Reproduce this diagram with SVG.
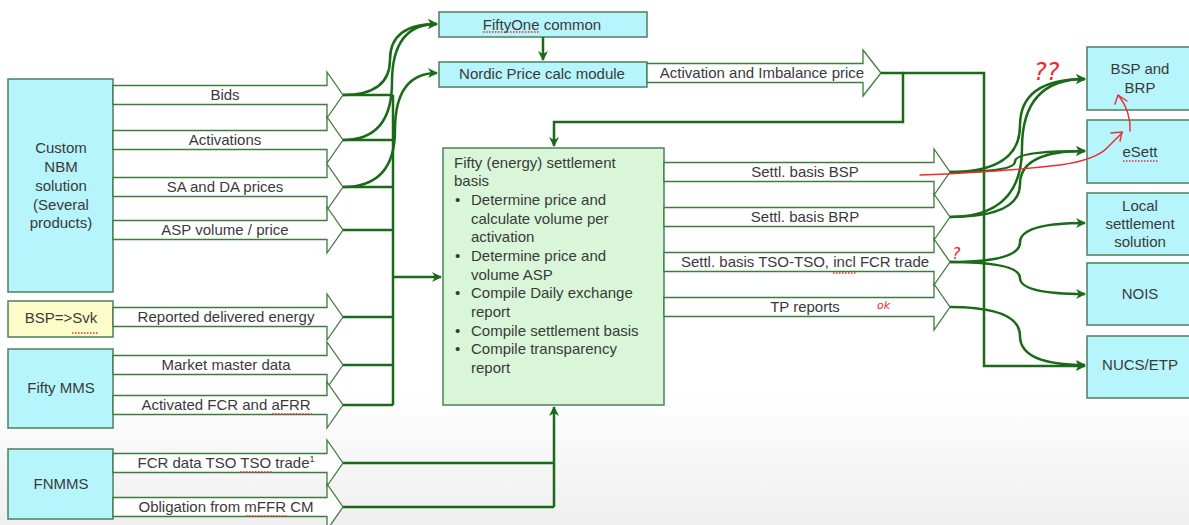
<svg xmlns="http://www.w3.org/2000/svg" width="1189" height="525" viewBox="0 0 1189 525">
<defs>
<linearGradient id="bg" x1="0" y1="0" x2="0" y2="1">
<stop offset="0" stop-color="#ffffff"/>
<stop offset="0.74" stop-color="#ffffff"/>
<stop offset="1" stop-color="#efefef"/>
</linearGradient>
<marker id="ah" viewBox="0 0 10 10" refX="9" refY="5" markerWidth="11" markerHeight="10" orient="auto" markerUnits="userSpaceOnUse">
<path d="M0,0 L10,5 L0,10 L3,5 Z" fill="#1a6a1a"/>
</marker>
<style>
.box{fill:#b6f5fb;stroke:#4d7f5d;stroke-width:1.5}
.ybox{fill:#fdfdc9;stroke:#4d7f5d;stroke-width:1.5}
.gbox{fill:#d9f6d9;stroke:#4d7f5d;stroke-width:1.5}
.flow{fill:#ffffff;stroke:#3e7b3e;stroke-width:1.3;stroke-linejoin:miter}
.t{font-family:"Liberation Sans",Arial,sans-serif;font-size:15px;fill:#3a3a3a}
.c{text-anchor:middle}
.con{fill:none;stroke:#1a6a1a;stroke-width:2.5}
.red{fill:none;stroke:#ee2a2a;stroke-width:1.4;stroke-linecap:round}
.sq{fill:none;stroke:#e03030;stroke-width:1.3;stroke-dasharray:1.5 1.5}
.rt{font-family:"DejaVu Sans",sans-serif;fill:#ee2a2a;font-style:italic}
</style>
</defs>
<rect x="0" y="0" width="1189" height="525" fill="url(#bg)"/>

<!-- left source nodes -->
<g id="custom-nbm">
<rect class="box" x="8" y="79" width="105" height="213"/>
<text class="t c" x="61" y="153">Custom</text>
<text class="t c" x="61" y="172">NBM</text>
<text class="t c" x="61" y="191">solution</text>
<text class="t c" x="61" y="210">(Several</text>
<text class="t c" x="61" y="228">products)</text>
</g>
<g id="bsp-svk">
<rect class="ybox" x="8" y="301" width="105" height="36"/>
<text class="t c" x="61" y="323">BSP=&gt;Svk</text>
<path class="sq" d="M72 333 L98 333"/>
</g>
<g id="fifty-mms">
<rect class="box" x="8" y="349" width="105" height="79"/>
<text class="t c" x="61" y="393">Fifty MMS</text>
</g>
<g id="fnmms">
<rect class="box" x="8" y="449" width="105" height="70"/>
<text class="t c" x="61" y="489">FNMMS</text>
</g>

<!-- left block arrows -->
<g id="flow-bids"><path class="flow" d="M113 85.5 L327 85.5 L327 72 L343 95 L327 118 L327 104.5 L113 104.5 Z"/><text class="t c" x="225" y="100">Bids</text></g>
<g id="flow-activations"><path class="flow" d="M113 130.5 L327 130.5 L327 117 L343 140 L327 163 L327 149.5 L113 149.5 Z"/><text class="t c" x="225" y="145">Activations</text></g>
<g id="flow-sa-da"><path class="flow" d="M113 177.5 L327 177.5 L327 164 L343 187 L327 210 L327 196.5 L113 196.5 Z"/><text class="t c" x="225" y="192">SA and DA prices</text></g>
<g id="flow-asp"><path class="flow" d="M113 220.5 L327 220.5 L327 207 L343 230 L327 253 L327 239.5 L113 239.5 Z"/><text class="t c" x="225" y="235">ASP volume / price</text></g>
<g id="flow-reported"><path class="flow" d="M113 307.5 L327 307.5 L327 294 L343 317 L327 340 L327 326.5 L113 326.5 Z"/><text class="t c" x="226" y="322">Reported delivered energy</text></g>
<g id="flow-master"><path class="flow" d="M113 355.5 L327 355.5 L327 342 L343 365 L327 388 L327 374.5 L113 374.5 Z"/><text class="t c" x="226" y="370">Market master data</text></g>
<g id="flow-fcr-afrr"><path class="flow" d="M113 395.5 L327 395.5 L327 382 L343 405 L327 428 L327 414.5 L113 414.5 Z"/><text class="t c" x="226" y="410">Activated FCR and aFRR</text><path class="sq" d="M272 414 L312 414"/></g>
<g id="flow-fcr-tso"><path class="flow" d="M113 453.5 L327 453.5 L327 440 L343 463 L327 486 L327 472.5 L113 472.5 Z"/><text class="t c" x="226" y="468">FCR data TSO TSO trade<tspan font-size="9" dy="-6">1</tspan></text><path class="sq" d="M240 472 L272 472"/></g>
<g id="flow-mffr"><path class="flow" d="M113 497.5 L327 497.5 L327 484 L343 507 L327 530 L327 516.5 L113 516.5 Z"/><text class="t c" x="226" y="512">Obligation from mFFR CM</text><path class="sq" d="M246 516 L287 516"/></g>

<!-- middle nodes -->
<g id="fiftyone-common">
<rect class="box" x="439" y="12" width="208" height="25"/>
<text class="t c" x="542" y="30">FiftyOne common</text>
<path class="sq" d="M483 32 L540 32"/>
</g>
<g id="nordic-price">
<rect class="box" x="439" y="62" width="208" height="25"/>
<text class="t c" x="542" y="79">Nordic Price calc module</text>
</g>
<g id="flow-act-imb"><path class="flow" d="M647 63.5 L863 63.5 L863 50 L881 73 L863 96 L863 82.5 L647 82.5 Z"/><text class="t c" x="762" y="78">Activation and Imbalance price</text></g>

<g id="settlement">
<rect class="gbox" x="443" y="148" width="221" height="257"/>
<text class="t" x="454" y="168">Fifty (energy) settlement</text>
<text class="t" x="454" y="186">basis</text>
<text class="t" x="455" y="205">•</text><text class="t" x="471" y="205">Determine price and</text>
<text class="t" x="471" y="224">calculate volume per</text>
<text class="t" x="471" y="242">activation</text>
<text class="t" x="455" y="261">•</text><text class="t" x="471" y="261">Determine price and</text>
<text class="t" x="471" y="280">volume ASP</text>
<text class="t" x="455" y="298">•</text><text class="t" x="471" y="298">Compile Daily exchange</text>
<text class="t" x="471" y="317">report</text>
<text class="t" x="455" y="336">•</text><text class="t" x="471" y="336">Compile settlement basis</text>
<text class="t" x="455" y="354">•</text><text class="t" x="471" y="354">Compile transparency</text>
<text class="t" x="471" y="373">report</text>
</g>

<!-- right block arrows -->
<g id="flow-bsp"><path class="flow" d="M664 162.5 L934 162.5 L934 149 L950 172 L934 195 L934 181.5 L664 181.5 Z"/><text class="t c" x="805" y="177">Settl. basis BSP</text></g>
<g id="flow-brp"><path class="flow" d="M664 207.5 L934 207.5 L934 194 L950 217 L934 240 L934 226.5 L664 226.5 Z"/><text class="t c" x="805" y="222">Settl. basis BRP</text></g>
<g id="flow-tso"><path class="flow" d="M664 252.5 L934 252.5 L934 239 L950 262 L934 285 L934 271.5 L664 271.5 Z"/><text class="t c" x="805" y="267">Settl. basis TSO-TSO, incl FCR trade</text><path class="sq" d="M833 273 L857 273"/></g>
<g id="flow-tp"><path class="flow" d="M664 297.5 L934 297.5 L934 284 L950 307 L934 330 L934 316.5 L664 316.5 Z"/><text class="t c" x="805" y="312">TP reports</text></g>

<!-- right target nodes -->
<g id="bsp-brp">
<rect class="box" x="1087" y="47" width="108" height="63"/>
<text class="t c" x="1140" y="74">BSP and</text>
<text class="t c" x="1140" y="93">BRP</text>
</g>
<g id="esett">
<rect class="box" x="1087" y="120" width="108" height="63"/>
<text class="t c" x="1140" y="157">eSett</text>
<path class="sq" d="M1123 161 L1158 161"/>
</g>
<g id="local-settlement">
<rect class="box" x="1087" y="193" width="108" height="62"/>
<text class="t c" x="1140" y="211">Local</text>
<text class="t c" x="1140" y="229">settlement</text>
<text class="t c" x="1140" y="247">solution</text>
</g>
<g id="nois">
<rect class="box" x="1087" y="263" width="108" height="62"/>
<text class="t c" x="1140" y="299">NOIS</text>
</g>
<g id="nucs-etp">
<rect class="box" x="1087" y="336" width="108" height="62"/>
<text class="t c" x="1140" y="370">NUCS/ETP</text>
</g>

<!-- connectors -->
<g id="connectors">
<path class="con" d="M343 95 L393 95 M343 140 L393 140 M343 187 L393 187 M343 230 L393 230 M343 317 L393 317 M343 365 L393 365 M343 405 L393 405 M393 95 L393 405"/>
<path class="con" d="M393 277 L441 277" marker-end="url(#ah)"/>
<path class="con" d="M343 95 Q390 95 390 59.5 T437 24" marker-end="url(#ah)"/>
<path class="con" d="M343 140 Q392 140 392 82 T437 24" marker-end="url(#ah)"/>
<path class="con" d="M343 187 Q395 187 395 130 T437 73" marker-end="url(#ah)"/>
<path class="con" d="M543 37 L543 60" marker-end="url(#ah)"/>
<path class="con" d="M343 463 L554 463 M343 507 L554 507 M554 507 L554 407" marker-end="url(#ah)"/>
<path class="con" d="M881 73 L903 73 L903 122 L554 122 L554 146" marker-end="url(#ah)"/>
<path class="con" d="M903 73 L984 73 L984 366 L1085 366" marker-end="url(#ah)"/>
<path class="con" d="M950 172 Q1020 172 1020 125.5 T1085 79" marker-end="url(#ah)"/>
<path class="con" d="M950 172 Q1015 172 1015 161.5 T1085 151" marker-end="url(#ah)"/>
<path class="con" d="M950 217 Q1022 217 1022 148 T1085 79" marker-end="url(#ah)"/>
<path class="con" d="M950 217 Q1020 217 1020 184 T1085 151" marker-end="url(#ah)"/>
<path class="con" d="M950 262 Q1020 262 1020 242.5 T1085 223" marker-end="url(#ah)"/>
<path class="con" d="M950 262 Q1020 262 1020 278 T1085 294" marker-end="url(#ah)"/>
<path class="con" d="M950 307 Q1020 307 1020 336 T1085 365" marker-end="url(#ah)"/>
</g>

<!-- red annotations -->
<g id="annotations">
<path class="red" d="M920 175 Q1000 172 1060 165 Q1096 160 1108 147 L1122 133"/>
<path class="red" d="M1111 133 L1122 132 L1120 141"/>
<path class="red" d="M1130 131 Q1131 112 1119 96"/>
<path class="red" d="M1115 104 L1118 95 L1127 101"/>
<text class="rt" x="1034" y="80" font-size="24">??</text>
<text class="rt" x="952" y="259" font-size="16">?</text>
<text class="rt" x="877" y="309" font-size="11">ok</text>
</g>
</svg>
